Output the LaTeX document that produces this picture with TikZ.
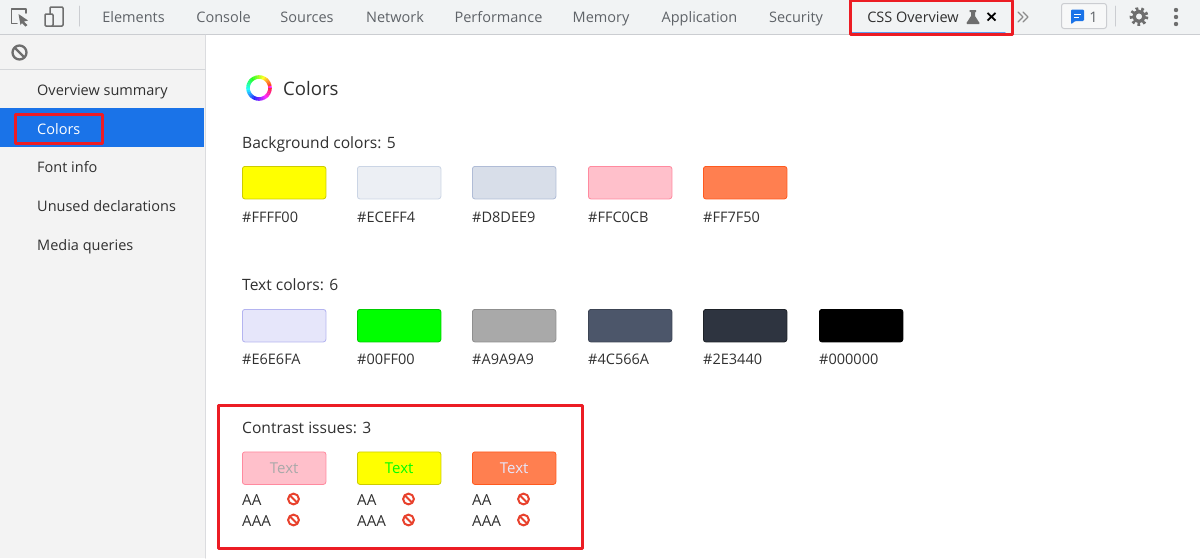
\documentclass[tikz,border=0pt]{standalone}
\usepackage{fontspec}
\setmainfont{Open Sans}
\definecolor{barbg}{HTML}{F1F3F4}
\definecolor{sidebg}{HTML}{F3F3F3}
\definecolor{rulegray}{HTML}{CBCDD1}
\definecolor{tabgray}{HTML}{5F6368}
\definecolor{icongray}{HTML}{6E6E6E}
\definecolor{bodytext}{HTML}{303030}
\definecolor{selblue}{HTML}{1A73E8}
\definecolor{markred}{HTML}{EC1C24}
\definecolor{stopred}{HTML}{E8412C}
\tikzset{
	tab/.style={anchor=base, inner sep=0pt, text=tabgray, font=\fontsize{14.5}{16}\selectfont},
	txt/.style={anchor=base west, inner sep=0pt, text=bodytext, font=\fontsize{14.5}{16}\selectfont},
	head/.style={txt, font=\fontsize{15.6}{18}\selectfont},
	swatch/.style={anchor=north west, minimum width=83.5, minimum height=32.5, inner sep=0pt, rounded corners=2.5, line width=0.8},
	markbox/.style={draw=markred, line width=3, anchor=north west, inner sep=0pt},
	stopicon/.style={draw=stopred, line width=2},
}
\begin{document}
\begin{tikzpicture}[x=1pt, y=-1pt, line join=round, line cap=round]
	\useasboundingbox (0,0) rectangle (1200,558);
	\fill[white] (0,0) rectangle (1200,558);
	% toolbar and sidebar
	\fill[barbg] (0,0) rectangle (1200,34);
	\draw[rulegray, line width=1] (0,34.5)--(1200,34.5);
	\fill[sidebg] (0,35) rectangle (205,558);
	\draw[rulegray!70, line width=1] (205.5,35)--(205.5,558);
	\draw[rulegray!80, line width=1] (0,69.5)--(205,69.5);
	\fill[selblue] (0,108) rectangle (204,147);
	\draw[rulegray, line width=1] (79,6)--(79,26);
	\draw[rulegray, line width=1] (1115,6)--(1115,26);
	\foreach \tx/\tname/\ttext in {133.500/tabelem/Elements, 223.500/tabcons/Console, 307/tabsrc/Sources, 395/tabnet/Network, 498.500/tabperf/Performance, 601/tabmem/Memory, 699.500/tabapp/Application, 796/tabsec/Security}
		\node[tab] (\tname) at (\tx,22) {\ttext};
	\node[tab, text=bodytext] (tabcss) at (913,22) {CSS Overview};
	\draw[selblue!70, line width=1.5] (851,33)--(1005,33);
	% toolbar icons
	\draw[icongray, line width=1.5] (17,23.500)--(11.500,23.500)--(11.500,9)--(26,9)--(26,13);
	\fill[icongray] (18.500,14)--(28,20.500)--(24,21.500)--(27.500,25)--(25.500,26.500)--(22,23)--(20.500,25)--cycle;
	\draw[icongray, line width=1.5, rounded corners=1] (50,7) rectangle (63,26);
	\draw[icongray, line width=1.5, fill=barbg, rounded corners=1] (45,14) rectangle (53,26);
	\fill[icongray] (969.500,10)--(976,10)--(976,12)--(975,12)--(975,16)--(979.500,23)--(979,24)--(967,24)--(966.500,23)--(971,16)--(971,12)--(969.500,12)--cycle;
	\draw[black, line width=1.8, line cap=butt] (987.500,13)--(995.500,20.500) (995.500,13)--(987.500,20.500);
	\draw[icongray!80, line width=1.2] (1018,12)--(1023,17)--(1018,22) (1023,12)--(1028,17)--(1023,22);
	\draw[rulegray, line width=1, rounded corners=2.5, fill=barbg!60!white] (1061.5,3.5) rectangle (1106.5,28.5);
	\fill[selblue, rounded corners=1.2] (1071,9.500)--(1084,9.500)--(1084,21)--(1075,21)--(1071,24.500)--cycle;
	\draw[white, line width=1, line cap=butt] (1074,14)--(1081,14) (1074,17.5)--(1079,17.5);
	\node[tab] (msgcount) at (1093.500,22) {1};
	\draw[icongray, line width=3.6, dash pattern=on 2.6 off 2.8, line cap=butt] (1139,16.5) circle (7.6);
	\draw[icongray, line width=3.4] (1139,16.5) circle (5);
	\foreach \dy in {10,17,24}
		\fill[icongray] (1176,\dy) circle (2.200);
	\draw[icongray, line width=2.300] (19.5,52.5) circle (7);
	\draw[icongray, line width=2.300, line cap=butt] (14.500,47.500)--(24.500,57.500);
	% sidebar items
	\node[txt] (ovsummary) at (37,95) {Overview summary};
	\node[txt, text=white] (colorsitem) at (37,134) {Colors};
	\node[txt] (fontinfo) at (37,172.500) {Font info};
	\node[txt] (unused) at (37,211.500) {Unused declarations};
	\node[txt] (mediaq) at (37,250.500) {Media queries};
	% colour ring
	\foreach \a [evaluate=\a as \hue using int(360-\a)] in {0,10,...,350}{
		\definecolor{ringcol}{Hsb}{\hue,0.85,1}
		\draw[ringcol, line width=3.6, line cap=butt] (259,88)++(\a:11) arc[start angle=\a, end angle=\a-11, radius=11];
	}
	\node[txt, font=\fontsize{18.6}{20}\selectfont] (coltitle) at (283,95) {Colors};
	% background colors
	\node[head] (bghead) at (242,148.500) {Background colors: 5};
	\foreach \cx/\hex/\edge/\idx in {242/FFFF00/CCCC00/1, 357/ECEFF4/CBD5E5/2, 472/D8DEE9/B0BCD6/3, 588/FFC0CB/FF8A9F/4, 703/FF7F50/FF5A1F/5}{
		\definecolor{swc}{HTML}{\hex}
		\definecolor{swe}{HTML}{\edge}
		\node[swatch, fill=swc, draw=swe] (bgsw\idx) at (\cx,166) {};
		\node[txt] (bglab\idx) at (\cx,222) {\#\hex};
	}
	% text colors
	\node[head] (txthead) at (242,290.500) {Text colors: 6};
	\foreach \cx/\hex/\edge/\idx in {242/E6E6FA/B4B4F0/1, 357/00FF00/00CC00/2, 472/A9A9A9/8F8F8F/3, 588/4C566A/3C4454/4, 703/2E3440/1E2228/5, 819/000000/000000/6}{
		\definecolor{swc}{HTML}{\hex}
		\definecolor{swe}{HTML}{\edge}
		\node[swatch, fill=swc, draw=swe] (txsw\idx) at (\cx,309) {};
		\node[txt] (txlab\idx) at (\cx,364) {\#\hex};
	}
	% contrast issues
	\node[head] (conhead) at (242,433.500) {Contrast issues: 3};
	\foreach \cx/\bgc/\edge/\fgc/\idx in {242/FFC0CB/FF8A9F/A9A9A9/1, 357/FFFF00/CCCC00/00FF00/2, 472/FF7F50/FF5A1F/E6E6FA/3}{
		\definecolor{swc}{HTML}{\bgc}
		\definecolor{swe}{HTML}{\edge}
		\definecolor{fgc}{HTML}{\fgc}
		\node[swatch, fill=swc, draw=swe, text=fgc, font=\fontsize{15}{16}\selectfont] (consw\idx) at (\cx,451.500) {Text};
		\node[txt, font=\fontsize{15.2}{16}\selectfont] (aa\idx) at (\cx,505.500) {AA};
		\node[txt, font=\fontsize{15.2}{16}\selectfont] (aaa\idx) at (\cx,526) {AAA};
		\foreach \iy in {499,520}{
			\draw[stopicon] (\cx+51.500,\iy) circle (5.400);
			\draw[stopicon, line cap=butt] (\cx+47.700,\iy-3.800)--(\cx+55.300,\iy+3.800);
		}
	}
	% red highlight boxes
	\node[markbox, minimum width=162, minimum height=34] (markcss) at (848.500,-1) {};
	\node[markbox, minimum width=87, minimum height=29] (markcol) at (13.500,112.500) {};
	\node[markbox, minimum width=364, minimum height=143] (markcon) at (216.500,404) {};
\end{tikzpicture}
\end{document}
